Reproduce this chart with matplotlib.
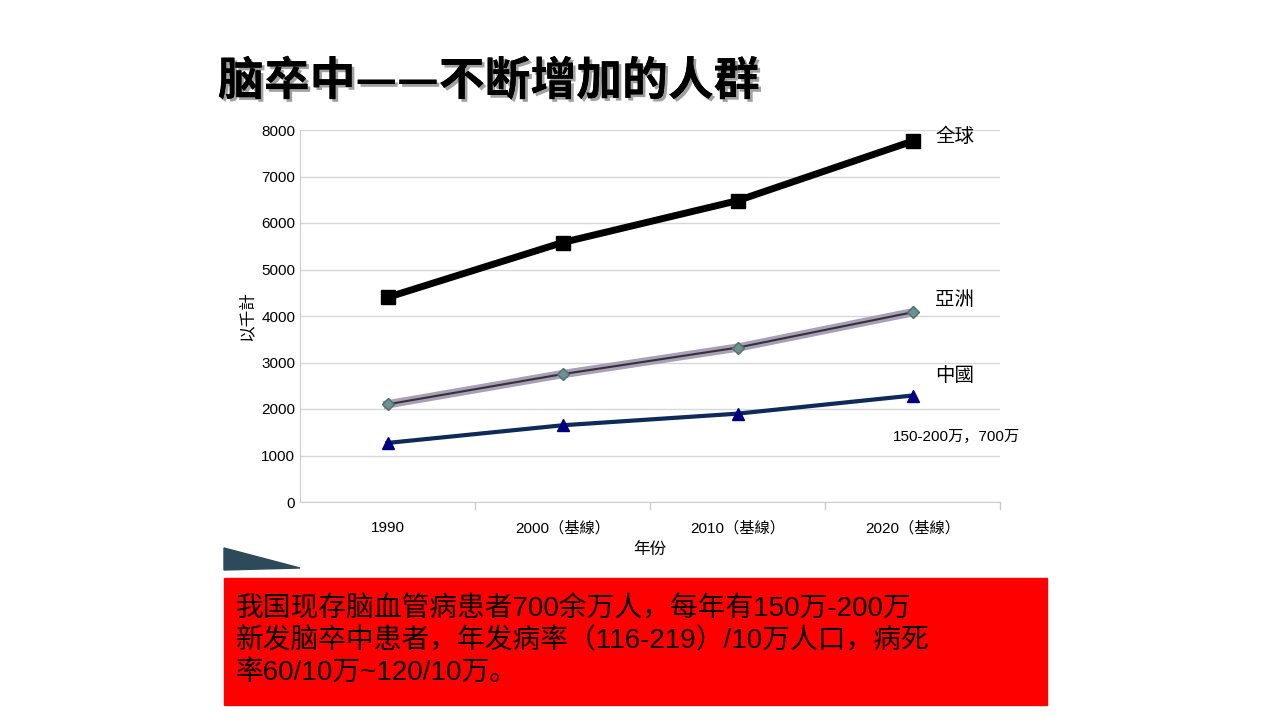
import matplotlib.pyplot as plt
import matplotlib.patheffects as pe
from matplotlib.patches import Rectangle, Polygon

plt.rcParams['font.family'] = ['Liberation Sans', 'Noto Sans CJK SC', 'DejaVu Sans']

years = ['1990', '2000（基線）', '2010（基線）', '2020（基線）']
world = [4400, 5580, 6480, 7760]
asia = [2100, 2750, 3320, 4080]
china = [1270, 1650, 1900, 2290]

W, H = 1280, 720
fig = plt.figure(figsize=(12.8, 7.2), dpi=100)
fig.patch.set_facecolor('white')

def fx(x): return x / W
def fy(y): return 1 - y / H

# title
fig.text(fx(218), fy(82), '脑卒中——不断增加的人群', fontsize=33, fontweight='bold',
         va='center', ha='left', family=['Noto Sans CJK SC', 'DejaVu Sans'],
         path_effects=[pe.withSimplePatchShadow(offset=(2, -2), shadow_rgbFace='#888888', alpha=0.8), pe.Normal()])

ax = fig.add_axes([fx(300), fy(502), fx(1000) - fx(300), fy(130) - fy(502)])
x = range(len(years))
ax.plot(x, world, color='black', lw=5, marker='s', ms=10, zorder=3)
ax.plot(x, asia, color='#a89fb8', lw=6, zorder=2)
ax.plot(x, asia, color='#333333', lw=1.5, marker='D', ms=6, mfc='#6f9090', mec='#4f6f6f', zorder=3)
ax.plot(x, china, color='#0d2a5a', lw=3, marker='^', ms=9, mfc='#000080', mec='#000080', zorder=3)

ax.set_xlim(-0.5, 3.5)
ax.set_ylim(0, 8000)
ax.set_yticks(range(0, 8001, 1000))
ax.set_xticks(list(x))
ax.set_xticklabels(years, fontsize=11)
ax.tick_params(axis='y', labelsize=11, length=0)
ax.tick_params(axis='x', length=0, pad=14)
ax.grid(axis='y', color='#d8d8d8', lw=1)
ax.set_axisbelow(True)
for s in ['top', 'right']:
    ax.spines[s].set_visible(False)
ax.spines['left'].set_color('#cccccc')
ax.spines['bottom'].set_color('#cccccc')
for b in [0.5, 1.5, 2.5, 3.5]:
    ax.plot([b, b], [0, -150], color='#cccccc', lw=1, clip_on=False)
ax.set_xlabel('年份', fontsize=12)
ax.set_ylabel('以千計', fontsize=12)

ax.text(3.13, 7850, '全球', fontsize=14, va='center')
ax.text(3.13, 4350, '亞洲', fontsize=14, va='center')
ax.text(3.13, 2700, '中國', fontsize=14, va='center')
ax.text(3.25, 1400, '150-200万，700万', fontsize=11, va='center', ha='center')

# decorative swoosh
fig.patches.append(Polygon([[fx(224), fy(548)], [fx(300), fy(568)], [fx(224), fy(570)]],
                           closed=True, transform=fig.transFigure, color='#2d4a5a'))

# red text box
fig.patches.append(Rectangle((fx(224), fy(705)), fx(1047) - fx(224), fy(578) - fy(705),
                             transform=fig.transFigure, color='#ff0000'))
fig.text(fx(236), fy(641), '我国现存脑血管病患者700余万人，每年有150万-200万\n'
         '新发脑卒中患者，年发病率（116-219）/10万人口，病死\n率60/10万~120/10万。',
         fontsize=20, va='center', ha='left', color='black', linespacing=1.25)

fig.savefig('out.png', dpi=100)
